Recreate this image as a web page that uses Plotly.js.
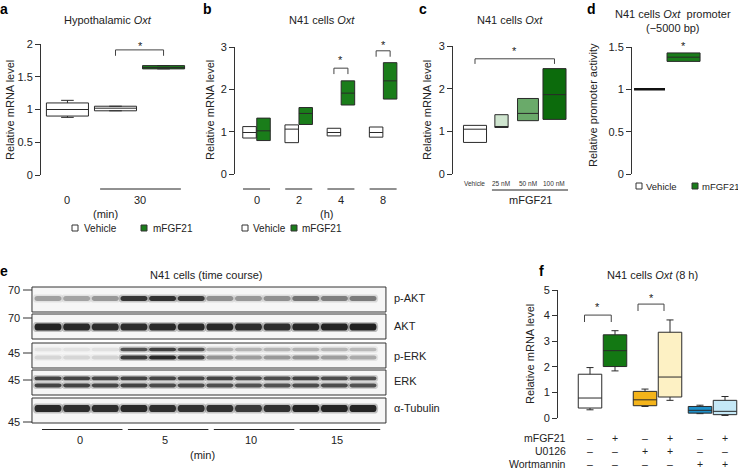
<!DOCTYPE html>
<html><head><meta charset="utf-8">
<script src="https://cdn.plot.ly/plotly-3.0.1.min.js"></script>
<style>html,body{margin:0;padding:0;background:#fff}#chart{width:738px;height:470px}</style>
</head><body><div id="chart"></div>
<script>
// ================= DATA =================
// Box statistics: [lower whisker, q1, median, q3, upper whisker]
// Panel a: Hypothalamic Oxt
const aTimeLabels = ['0', '30'];
const aVehicle = [[0.88, 0.90, 1.00, 1.10, 1.14], [0.98, 0.98, 1.02, 1.05, 1.05]];
const aFGF21 = [[1.62, 1.62, 1.64, 1.67, 1.67]];
// Panel b: N41 cells Oxt time course (h)
const bTimeLabels = ['0', '2', '4', '8'];
const bVehicle = [[0.85, 0.85, 0.98, 1.12, 1.12], [0.74, 0.74, 1.06, 1.16, 1.16], [0.90, 0.90, 0.98, 1.08, 1.08], [0.87, 0.87, 0.98, 1.11, 1.11]];
const bFGF21 = [[0.79, 0.79, 1.02, 1.32, 1.32], [1.17, 1.17, 1.43, 1.57, 1.57], [1.63, 1.63, 1.91, 2.20, 2.20], [1.77, 1.77, 2.20, 2.63, 2.63]];
// Panel c: dose response
const cDoseLabels = ['Vehicle', '25 nM', '50 nM', '100 nM'];
const cBoxes = [[0.74, 0.74, 1.05, 1.14, 1.14], [1.09, 1.09, 1.09, 1.39, 1.39], [1.25, 1.25, 1.42, 1.77, 1.77], [1.28, 1.28, 1.86, 2.47, 2.47]];
// Panel d: promoter activity
const dVehicle = [1.00, 1.00, 1.00, 1.00, 1.00];
const dFGF21 = [1.33, 1.33, 1.38, 1.43, 1.43];
// Panel f: inhibitors (8 h)
const fBoxes = [[0.32, 0.39, 0.78, 1.71, 1.97], [1.84, 2.01, 2.63, 3.25, 3.41], [0.45, 0.48, 0.71, 1.04, 1.13], [0.69, 0.82, 1.60, 3.35, 3.83], [0.17, 0.19, 0.30, 0.45, 0.50], [0.10, 0.13, 0.26, 0.69, 0.84]];
const fRowLabels = ['mFGF21', 'U0126', 'Wortmannin'];
const fFGF21Signs = ['–', '+', '–', '+', '–', '+'];
const fU0126Signs = ['–', '–', '+', '+', '–', '–'];
const fWortSigns = ['–', '–', '–', '–', '+', '+'];
// Panel e: western blot band intensities per lane (0 = none, 1 = black)
const eTimeLabels = ['0', '5', '10', '15'];
const eMWLabels = ['70', '70', '45', '45', '45'];
const eProteins = ['p-AKT', 'AKT', 'p-ERK', 'ERK', 'α-Tubulin'];
const ePAKT = [0.35, 0.33, 0.38, 0.88, 0.9, 0.85, 0.42, 0.38, 0.42, 0.55, 0.5, 0.52];
const eAKT = [0.98, 0.95, 0.92, 0.93, 0.95, 0.95, 0.95, 0.92, 0.92, 0.96, 0.98, 1.0];
const ePERKUpper = [0.07, 0.07, 0.08, 0.72, 0.82, 0.72, 0.28, 0.26, 0.26, 0.27, 0.25, 0.24];
const ePERKLower = [0.12, 0.12, 0.14, 0.86, 0.96, 0.82, 0.4, 0.36, 0.38, 0.4, 0.36, 0.3];
const eERKUpper = [0.8, 0.8, 0.78, 0.8, 0.78, 0.78, 0.8, 0.75, 0.75, 0.8, 0.76, 0.72];
const eERKLower = [0.8, 0.8, 0.78, 0.8, 0.76, 0.76, 0.74, 0.72, 0.72, 0.75, 0.75, 0.72];
const eTubulin = [0.95, 0.92, 0.92, 0.95, 0.92, 0.9, 0.9, 0.85, 0.9, 0.98, 0.98, 0.98];

// ================= STYLE / HELPERS =================
const FONT = 'Liberation Sans, Arial, sans-serif';
const W = 738, H = 470;
const px = v => v / W, py = v => 1 - v / H;
const domX = (a, b) => [a / W, b / W];
const domY = (top, bottom) => [1 - bottom / H, 1 - top / H];
const GREEN = '#1a7d1a', EDGE = '#2a2a2a';
const traces = [], annotations = [], shapes = [];
const TXT = {family: FONT, size: 11, color: '#222'};

function addBox(xa, ya, pos, stats, fill, width, lineColor, lineWidth, whisker) {
  traces.push({
    type: 'box', xaxis: xa, yaxis: ya, x: pos,
    lowerfence: stats.map(s => s[0]), q1: stats.map(s => s[1]), median: stats.map(s => s[2]),
    q3: stats.map(s => s[3]), upperfence: stats.map(s => s[4]),
    fillcolor: fill, line: {color: lineColor || EDGE, width: lineWidth || 1},
    width: width, whiskerwidth: whisker == null ? 0.3 : whisker,
    boxpoints: false, hoverinfo: 'skip', showlegend: false
  });
}
function bracket(xa, ya, x1, x2, top, bottom) {
  traces.push({type: 'scatter', mode: 'lines', xaxis: xa, yaxis: ya,
    x: [x1, x1, x2, x2], y: [bottom, top, top, bottom],
    line: {color: '#444', width: 1}, hoverinfo: 'skip', showlegend: false});
}
function ann(text, o) {
  annotations.push(Object.assign({text: text, xref: 'paper', yref: 'paper', showarrow: false,
    xanchor: 'center', yanchor: 'middle', font: {family: FONT, size: 10, color: '#222'}}, o));
}
// star: x on the panel's axis, vertical position in page pixels
function star(xa, x, yPix) {
  ann('*', {xref: xa, x: x, y: py(yPix), yshift: -3, font: {family: FONT, size: 11, color: '#222'}});
}
function pline(xref, x0, x1, yPix) {
  shapes.push({type: 'line', xref: xref, yref: 'paper', x0: x0, x1: x1, y0: py(yPix), y1: py(yPix), line: {color: '#222', width: 1}});
}
function legendSq(xPix, yPix, fill) {
  shapes.push({type: 'rect', xref: 'paper', yref: 'paper', x0: px(xPix - 3), x1: px(xPix + 3), y0: py(yPix + 3), y1: py(yPix - 3), fillcolor: fill, line: {color: '#333', width: 1}});
}
const yStyle = {showline: true, linecolor: '#333', linewidth: 1, ticks: 'outside', ticklen: 5, tickwidth: 1,
  tickcolor: '#333', showgrid: false, zeroline: false, fixedrange: true, autorange: false,
  tickfont: {family: FONT, size: 11, color: '#222'}};
const xHidden = {visible: false, fixedrange: true, autorange: false};

// ================= PANEL a =================
addBox('x', 'y', [1, 2], aVehicle, '#ffffff', 0.875);
addBox('x', 'y', [3], aFGF21, GREEN, 0.875);
bracket('x', 'y', 2, 3, 1.91, 1.82);
star('x', 2.52, 43);
ann('a', {x: px(4), y: py(9), font: {family: FONT, size: 14, color: '#000', weight: 'bold'}});
ann('Hypothalamic <i>Oxt</i>', {x: px(108), y: py(20), font: TXT});
ann('Relative mRNA level', {x: px(10), y: py(110), textangle: -90, font: TXT});
ann(aTimeLabels[0], {xref: 'x', x: 1, y: py(200), font: TXT});
ann(aTimeLabels[1], {xref: 'x', x: 2.5, y: py(200), font: TXT});
pline('x', 1.68, 3.36, 189);
ann('(min)', {xref: 'x', x: 1.8, y: py(214), font: TXT});
legendSq(75, 228, '#ffffff'); ann('Vehicle', {x: px(82), y: py(228), xanchor: 'left'});
legendSq(144, 228, GREEN); ann('mFGF21', {x: px(151), y: py(228), xanchor: 'left'});

// ================= PANEL b =================
const bOff = 0.166;
addBox('x2', 'y2', bTimeLabels.map((_, i) => i + 1 - bOff), bVehicle, '#ffffff', 0.32, null, 1, 0);
addBox('x2', 'y2', bTimeLabels.map((_, i) => i + 1 + bOff), bFGF21, GREEN, 0.32, null, 1, 0);
bracket('x2', 'y2', 3 - bOff, 3 + bOff, 2.5, 2.36); star('x2', 3, 57);
bracket('x2', 'y2', 4 - bOff, 4 + bOff, 2.91, 2.77); star('x2', 4, 42);
ann('b', {x: px(207), y: py(9), font: {family: FONT, size: 14, color: '#000', weight: 'bold'}});
ann('N41 cells <i>Oxt</i>', {x: px(322), y: py(20), font: TXT});
ann('Relative mRNA level', {x: px(210), y: py(110), textangle: -90, font: TXT});
bTimeLabels.forEach((t, i) => {
  ann(t, {xref: 'x2', x: i + 1, y: py(200), font: TXT});
  pline('x2', i + 1 - 0.32, i + 1 + 0.32, 189);
});
ann('(h)', {xref: 'x2', x: 2.67, y: py(214), font: TXT});
legendSq(245, 228, '#ffffff'); ann('Vehicle', {x: px(251), y: py(228), xanchor: 'left'});
legendSq(294, 228, GREEN); ann('mFGF21', {x: px(300), y: py(228), xanchor: 'left'});

// ================= PANEL c =================
const cFills = ['#ffffff', '#cfe5cf', '#6aaa6a', '#0c6b0c'];
const cWidths = [0.87, 0.5, 0.79, 0.87];
cBoxes.forEach((b, i) => addBox('x3', 'y3', [i + 1], [b], cFills[i], cWidths[i], null, 1, 0));
bracket('x3', 'y3', 1, 4, 2.7, 2.58); star('x3', 2.5, 48);
ann('c', {x: px(423), y: py(9), font: {family: FONT, size: 14, color: '#000', weight: 'bold'}});
ann('N41 cells <i>Oxt</i>', {x: px(510), y: py(20), font: TXT});
ann('Relative mRNA level', {x: px(427), y: py(110), textangle: -90, font: TXT});
cDoseLabels.forEach((t, i) => ann(t, {xref: 'x3', x: i + 1, y: py(183), font: {family: FONT, size: 6.5, color: '#333'}}));
pline('x3', 1.64, 4.51, 190);
ann('mFGF21', {xref: 'x3', x: 3.08, y: py(200), font: TXT});

// ================= PANEL d =================
addBox('x4', 'y4', [1], [dVehicle], '#ffffff', 0.91, '#111', 2.5, 0);
addBox('x4', 'y4', [2], [dFGF21], GREEN, 0.97, null, 1, 0);
star('x4', 2, 43);
ann('d', {x: px(591), y: py(9), font: {family: FONT, size: 14, color: '#000', weight: 'bold'}});
ann('N41 cells <i>Oxt</i>  promoter<br>(−5000 bp)', {x: px(673), y: py(21), font: TXT});
ann('Relative promoter activity', {x: px(593), y: py(105), textangle: -90, font: TXT});
legendSq(639, 186, '#ffffff'); ann('Vehicle', {x: px(644), y: py(186), xanchor: 'left', font: {family: FONT, size: 9.5, color: '#222'}});
legendSq(695, 186, GREEN); ann('mFGF21', {x: px(700), y: py(186), xanchor: 'left', font: {family: FONT, size: 9.5, color: '#222'}});

// ================= PANEL f =================
const fPos = [1, 2, 3.2, 4.2, 5.4, 6.4];
const fFills = ['#ffffff', '#137813', '#f4b41a', '#fdf1c4', '#1e8fc8', '#c5e8f6'];
fBoxes.forEach((b, i) => addBox('x5', 'y5', [fPos[i]], [b], fFills[i], 0.94, null, 1, 0.3));
bracket('x5', 'y5', 0.78, 1.85, 4.02, 3.75); star('x5', 1.3, 304);
bracket('x5', 'y5', 2.92, 3.96, 4.45, 4.18); star('x5', 3.45, 295);
ann('f', {x: px(541), y: py(271), font: {family: FONT, size: 14, color: '#000', weight: 'bold'}});
ann('N41 cells <i>Oxt</i> (8 h)', {x: px(652), y: py(275), font: TXT});
ann('Relative mRNA level', {x: px(530), y: py(354), textangle: -90, font: TXT});
const fSignRows = [fFGF21Signs, fU0126Signs, fWortSigns];
const fRowY = [438, 451, 463.5];
fRowLabels.forEach((lab, r) => {
  ann(lab, {x: px(568), y: py(fRowY[r]), xanchor: 'right', font: {family: FONT, size: 10.5, color: '#222'}});
  fSignRows[r].forEach((s, i) => ann(s, {xref: 'x5', x: fPos[i], y: py(fRowY[r]), font: {family: FONT, size: 10.5, color: '#222'}}));
});

// ================= PANEL e (western blot) =================
const lanes = ePAKT.map((_, i) => i + 1);
const rowBoxes = [[287, 312], [314, 339], [343, 368], [370, 395], [398, 423]];
const rowLabelY = [298, 326, 356, 381, 408];
const mwY = [290, 318, 353, 380, 422];
const laneL = 0.44, laneR = 12.8;
rowBoxes.forEach((r, k) => {
  shapes.push({type: 'rect', xref: 'x6', yref: 'y6', x0: laneL, x1: laneR, y0: r[0], y1: r[1],
    fillcolor: '#f6f6f6', line: {color: '#333', width: 1}});
  ann(eProteins[k], {x: px(392), y: py(rowLabelY[k]), xanchor: 'left', font: TXT});
  ann(eMWLabels[k], {x: px(22), y: py(mwY[k]), xanchor: 'right', font: TXT});
  shapes.push({type: 'line', xref: 'paper', yref: 'paper', x0: px(23), x1: px(32), y0: py(mwY[k]), y1: py(mwY[k]), line: {color: '#333', width: 1}});
});
const bandRows = [
  {vals: ePAKT, y: 298.5, h: 5},
  {vals: eAKT, y: 327, h: 7},
  {vals: ePERKUpper, y: 349.5, h: 3.5},
  {vals: ePERKLower, y: 357.5, h: 4},
  {vals: eERKUpper, y: 378.3, h: 3.8},
  {vals: eERKLower, y: 385.5, h: 3.8},
  {vals: eTubulin, y: 408.5, h: 7}
];
function bandPath(cx, cy, halfW, h) {
  const l = cx - halfW, r = cx + halfW, t = cy - h / 2, b = cy + h / 2, e = 0.12;
  return `M${l},${t} L${r},${t} C${r + e},${t} ${r + e},${b} ${r},${b} L${l},${b} C${l - e},${b} ${l - e},${t} ${l},${t} Z`;
}
bandRows.forEach(row => {
  row.vals.forEach((v, i) => {
    const lane = lanes[i];
    shapes.push({type: 'path', xref: 'x6', yref: 'y6', path: bandPath(lane, row.y, 0.44, row.h + 3),
      fillcolor: `rgba(20,20,20,${(0.25 * v).toFixed(3)})`, line: {width: 0}});
    shapes.push({type: 'path', xref: 'x6', yref: 'y6', path: bandPath(lane, row.y, 0.38, row.h),
      fillcolor: `rgba(15,15,15,${(0.9 * v).toFixed(3)})`, line: {width: 0}});
  });
});
eTimeLabels.forEach((t, g) => {
  pline('x6', 3 * g + 0.79, 3 * g + 3.6, 429.5);
  ann(t, {xref: 'x6', x: 3 * g + 2.1, y: py(440), font: TXT});
});
ann('(min)', {xref: 'x6', x: 6.41, y: py(455), font: TXT});
ann('e', {x: px(4), y: py(271), font: {family: FONT, size: 14, color: '#000', weight: 'bold'}});
ann('N41 cells (time course)', {x: px(206), y: py(275), font: TXT});
traces.push({type: 'scatter', mode: 'markers', xaxis: 'x6', yaxis: 'y6', x: [1], y: [300], marker: {opacity: 0}, hoverinfo: 'skip', showlegend: false});

// ================= LAYOUT =================
const layout = {
  width: W, height: H, margin: {l: 0, r: 0, t: 0, b: 0},
  paper_bgcolor: '#ffffff', plot_bgcolor: 'rgba(0,0,0,0)', showlegend: false,
  font: {family: FONT, size: 10, color: '#222'},
  xaxis: Object.assign({}, xHidden, {domain: domX(41, 190), range: [0.45, 3.55], anchor: 'y'}),
  yaxis: Object.assign({}, yStyle, {domain: domY(44, 175), range: [0, 2], anchor: 'x',
    tickvals: [0, 0.5, 1, 1.5, 2], ticktext: ['0', '0.5', '1', '1.5', '2']}),
  xaxis2: Object.assign({}, xHidden, {domain: domX(235, 400), range: [0.49, 4.4], anchor: 'y2'}),
  yaxis2: Object.assign({}, yStyle, {domain: domY(47, 174), range: [0, 3], anchor: 'x2',
    tickvals: [0, 1, 2, 3], ticktext: ['0', '1', '2', '3']}),
  xaxis3: Object.assign({}, xHidden, {domain: domX(453, 578), range: [0.17, 4.887], anchor: 'y3'}),
  yaxis3: Object.assign({}, yStyle, {domain: domY(46, 174), range: [0, 3], anchor: 'x3',
    tickvals: [0, 1, 2, 3], ticktext: ['0', '1', '2', '3']}),
  xaxis4: Object.assign({}, xHidden, {domain: domX(632, 706), range: [0.485, 2.66], anchor: 'y4'}),
  yaxis4: Object.assign({}, yStyle, {domain: domY(47, 174), range: [0, 1.5], anchor: 'x4',
    tickvals: [0, 0.5, 1, 1.5], ticktext: ['0', '0.5', '1', '1.5']}),
  xaxis5: Object.assign({}, xHidden, {domain: domX(558, 738), range: [-0.28, 6.92], anchor: 'y5'}),
  yaxis5: Object.assign({}, yStyle, {domain: domY(290, 418), range: [0, 5], anchor: 'x5',
    tickvals: [0, 1, 2, 3, 4, 5], ticktext: ['0', '1', '2', '3', '4', '5']}),
  xaxis6: Object.assign({}, xHidden, {domain: domX(28, 390), range: [0.3015, 12.9415], anchor: 'y6'}),
  yaxis6: Object.assign({}, xHidden, {domain: domY(280, 462), range: [462, 280], anchor: 'x6'}),
  annotations: annotations, shapes: shapes
};
Plotly.newPlot('chart', traces, layout, {staticPlot: true, displayModeBar: false});
</script></body></html>
